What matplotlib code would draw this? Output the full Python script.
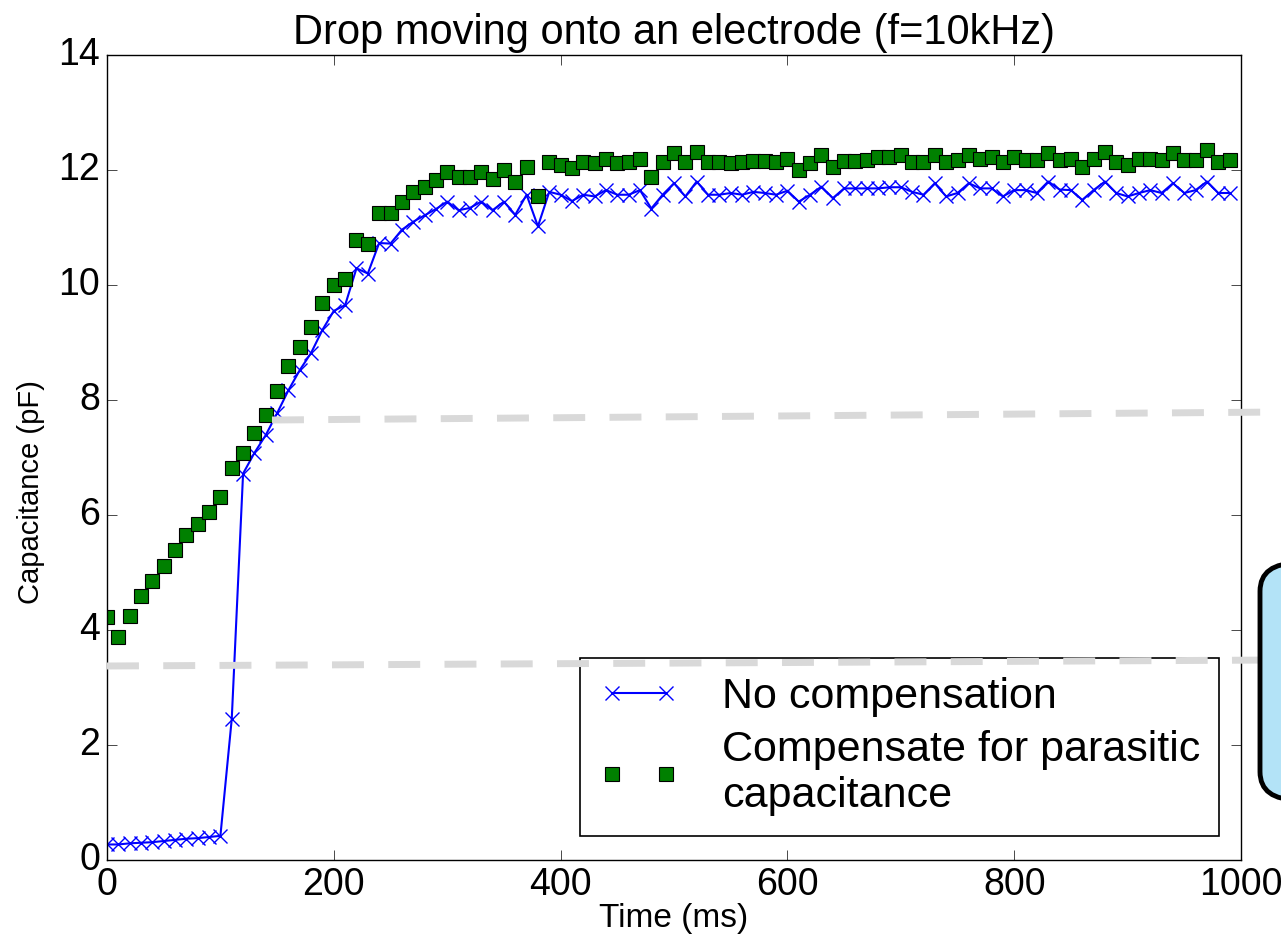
import matplotlib
matplotlib.use("Agg")
import matplotlib.pyplot as plt
from matplotlib.lines import Line2D
from matplotlib.patches import FancyBboxPatch

plt.style.use('classic')
plt.rcParams['font.family'] = ['Liberation Sans', 'DejaVu Sans']

# sample times (ms)
time_ms = list(range(0, 1000, 10))

# capacitance without compensation (pF)
no_comp = [0.27, 0.27, 0.29, 0.30, 0.31, 0.33, 0.35, 0.37, 0.38, 0.40, 0.42,
           2.45, 6.72, 7.08, 7.39, 7.77, 8.17, 8.52, 8.82, 9.22, 9.55, 9.65,
           10.29, 10.20, 10.73, 10.72, 10.96, 11.10, 11.21, 11.32, 11.45, 11.30, 11.34, 11.45,
           11.30, 11.45, 11.22, 11.57, 11.02, 11.62, 11.57, 11.46, 11.57, 11.54, 11.65, 11.57,
           11.57, 11.65, 11.33, 11.57, 11.77, 11.54, 11.80, 11.57, 11.57, 11.60, 11.57, 11.62,
           11.60, 11.57, 11.64, 11.45, 11.57, 11.71, 11.51, 11.68, 11.68, 11.68, 11.68, 11.70,
           11.70, 11.62, 11.57, 11.77, 11.54, 11.60, 11.77, 11.68, 11.68, 11.54, 11.65, 11.65,
           11.60, 11.80, 11.66, 11.65, 11.48, 11.65, 11.80, 11.60, 11.54, 11.60, 11.65, 11.60,
           11.77, 11.60, 11.65, 11.80, 11.60, 11.60]

# capacitance with parasitic compensation (pF)
comp = [4.22, 3.87, 4.25, 4.59, 4.85, 5.11, 5.39, 5.65, 5.85, 6.06, 6.32,
        6.81, 7.07, 7.43, 7.74, 8.15, 8.60, 8.93, 9.27, 9.68, 10.00, 10.10,
        10.79, 10.72, 11.25, 11.25, 11.45, 11.62, 11.71, 11.83, 11.97, 11.88, 11.88, 11.97,
        11.85, 12.00, 11.80, 12.06, 11.54, 12.14, 12.09, 12.03, 12.14, 12.12, 12.20, 12.12,
        12.14, 12.20, 11.88, 12.14, 12.29, 12.14, 12.32, 12.14, 12.14, 12.12, 12.14, 12.16,
        12.16, 12.14, 12.20, 12.00, 12.12, 12.26, 12.06, 12.16, 12.16, 12.17, 12.23, 12.23,
        12.26, 12.14, 12.14, 12.26, 12.14, 12.17, 12.26, 12.20, 12.23, 12.14, 12.23, 12.17,
        12.17, 12.29, 12.17, 12.20, 12.06, 12.20, 12.32, 12.14, 12.09, 12.20, 12.20, 12.17,
        12.29, 12.17, 12.17, 12.34, 12.14, 12.17]

W, H = 1281, 940
fig = plt.figure(figsize=(W / 100, H / 100), dpi=100, facecolor='white')
ax = fig.add_axes([107 / W, 1 - 860 / H, (1241 - 107) / W, (860 - 55) / H])

ax.plot(time_ms, no_comp, 'b-x', lw=1.5, ms=10, mew=1.0,
        label='No compensation')
ax.plot(time_ms, comp, 's', color=(0, 0.5, 0), mec='k', ms=10, mew=0.8,
        linestyle='none', label='Compensate for parasitic\ncapacitance')

ax.set_xlim(0, 1000)
ax.set_ylim(0, 14)
ax.set_xticks(range(0, 1001, 200))
ax.set_yticks(range(0, 15, 2))
ax.tick_params(labelsize=27, length=7, pad=5)
ax.set_title('Drop moving onto an electrode (f=10kHz)', fontsize=30, pad=8)
ax.set_xlabel('Time (ms)', fontsize=24, labelpad=0)
ax.set_ylabel('Capacitance (pF)', fontsize=21)
ax.yaxis.set_label_coords(-0.055, 0.457)

leg = ax.legend(loc='lower right', bbox_to_anchor=(0.981, 0.03),
                borderaxespad=0, numpoints=2, fontsize=31,
                handlelength=1.85, handletextpad=1.0,
                labelspacing=0.3, borderpad=0.45)
leg.get_frame().set_linewidth(1.2)

# slide overlay: grey dashed guide lines and a cut-off callout box
for (x0, y0, x1, y1) in [(272, 420, 1281, 412), (107, 666, 1281, 660)]:
    fig.add_artist(Line2D([x0 / W, x1 / W], [1 - y0 / H, 1 - y1 / H],
                          transform=fig.transFigure, color='#d9d9d9',
                          lw=5, dashes=(23, 17.5), zorder=10))

box = FancyBboxPatch((1260 / W, 1 - 800 / H), 120 / W, 237 / H,
                     boxstyle='round,pad=0,rounding_size=0.03',
                     transform=fig.transFigure, facecolor='#b3e3f7',
                     edgecolor='black', lw=3.5, zorder=11)
fig.add_artist(box)

fig.savefig('out.png', dpi=100, facecolor='white')
